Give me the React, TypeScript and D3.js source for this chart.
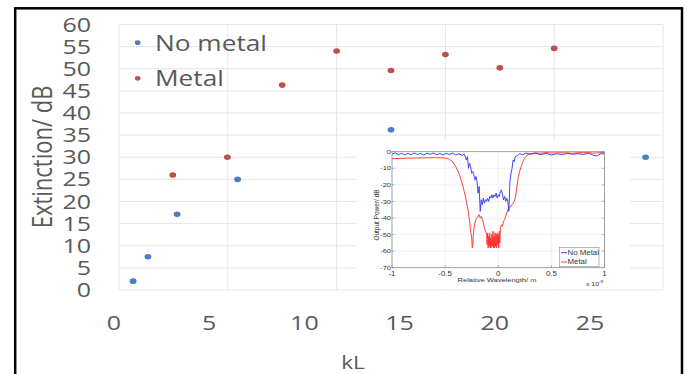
import React from 'react';
import * as d3 from 'd3';

// main scatter: extinction vs kL
const kLNoMetal = [0.65, 1.33, 2.67, 5.45, 12.5, 24.2];
const extNoMetal = [2.0, 7.5, 17.1, 25.0, 36.2, 30.0];
const kLMetal = [2.47, 4.98, 7.5, 10, 12.5, 15, 17.5, 20];
const extMetal = [26.0, 30.0, 46.3, 54.0, 49.6, 53.2, 50.2, 54.6];

const yTicks = [0, 5, 10, 15, 20, 25, 30, 35, 40, 45, 50, 55, 60];
const xTicks = [0, 5, 10, 15, 20, 25];

// inset: output power spectra (relative wavelength x1e-9 m, dB)
const specNoMetal: [number, number][] = [
  [-1.0, -1.6], [-0.97, -0.6], [-0.94, -1.8], [-0.91, -0.9], [-0.88, -2.0], [-0.85, -1.0],
  [-0.82, -1.9], [-0.79, -0.8], [-0.76, -1.7], [-0.73, -1.0], [-0.7, -2.1], [-0.67, -0.9],
  [-0.64, -1.6], [-0.61, -0.7], [-0.58, -1.8], [-0.55, -1.1], [-0.52, -2.0], [-0.49, -1.0],
  [-0.46, -1.7], [-0.43, -0.8], [-0.4, -2.0], [-0.37, -1.2], [-0.34, -2.2], [-0.32, -1.5],
  [-0.3, -5], [-0.29, -3], [-0.28, -10], [-0.27, -7], [-0.26, -9], [-0.25, -13], [-0.24, -12],
  [-0.23, -14], [-0.22, -17], [-0.21, -15], [-0.2, -18], [-0.19, -25], [-0.18, -21], [-0.17, -36],
  [-0.16, -29], [-0.15, -32], [-0.14, -28], [-0.13, -31], [-0.12, -29], [-0.11, -30], [-0.1, -28],
  [-0.09, -30], [-0.08, -27], [-0.07, -28], [-0.06, -26], [-0.05, -28], [-0.04, -26], [-0.03, -27],
  [-0.02, -25], [-0.01, -28], [0.0, -26], [0.01, -27], [0.02, -24], [0.03, -23], [0.04, -26],
  [0.05, -29], [0.06, -27], [0.07, -30], [0.08, -28], [0.09, -30], [0.1, -36], [0.11, -18],
  [0.12, -13], [0.13, -10], [0.14, -5], [0.15, -6], [0.16, -3], [0.18, -2.5], [0.2, -1.2],
  [0.23, -1.8], [0.26, -0.8], [0.3, -1.5], [0.35, -0.9], [0.4, -1.8], [0.45, -1.0], [0.5, -2.0],
  [0.55, -1.2], [0.6, -1.8], [0.65, -1.0], [0.7, -1.6], [0.75, -1.1], [0.8, -1.7], [0.85, -0.9],
  [0.9, -2.2], [0.93, -2.6], [0.96, -1.3], [1.0, -1.2],
];
const specMetal: [number, number][] = [
  [-1.0, -4.2], [-0.9, -4.0], [-0.8, -3.8], [-0.7, -3.7], [-0.6, -3.6], [-0.5, -3.8], [-0.46, -4.5],
  [-0.43, -6], [-0.4, -9], [-0.37, -13], [-0.34, -19], [-0.32, -24], [-0.3, -30], [-0.28, -37],
  [-0.27, -42], [-0.26, -48], [-0.25, -52], [-0.245, -58], [-0.24, -57], [-0.235, -50], [-0.23, -47],
  [-0.22, -43], [-0.21, -41], [-0.2, -40], [-0.19, -39], [-0.18, -38], [-0.17, -40], [-0.16, -39],
  [-0.15, -41], [-0.14, -43], [-0.13, -46], [-0.12, -48], [-0.11, -50], [-0.105, -56], [-0.1, -49],
  [-0.095, -58], [-0.09, -51], [-0.085, -57], [-0.08, -49], [-0.075, -58], [-0.07, -52], [-0.065, -58],
  [-0.06, -50], [-0.055, -57], [-0.05, -48], [-0.045, -58], [-0.04, -51], [-0.035, -58], [-0.03, -49],
  [-0.025, -57], [-0.02, -50], [-0.015, -58], [-0.01, -49], [-0.005, -56], [0.0, -50], [0.005, -58],
  [0.01, -48], [0.015, -55], [0.02, -46], [0.03, -44], [0.04, -45], [0.05, -42], [0.06, -41],
  [0.07, -39], [0.08, -37], [0.09, -35], [0.1, -34], [0.11, -33], [0.12, -33], [0.13, -32],
  [0.14, -31], [0.15, -30], [0.16, -28], [0.17, -24], [0.18, -19], [0.19, -15], [0.2, -12],
  [0.22, -8], [0.24, -5], [0.26, -3], [0.28, -1.8], [0.3, -1.2], [0.35, -0.7], [0.4, -0.9],
  [0.45, -0.5], [0.5, -0.8], [0.6, -0.6], [0.7, -0.9], [0.8, -0.5], [0.9, -0.8], [1.0, -0.5],
];
const insetXTicks = [-1, -0.5, 0, 0.5, 1];
const insetXLabels = ['-1', '-0.5', '0', '0.5', '1'];
const insetYTicks = [0, -10, -20, -30, -40, -50, -60, -70];

const SX = 1.25; // picture is stretched horizontally
const GREY = '#595959';
const GRID = '#e6e6e6';
const BLUE = '#4a7dc4';
const RED = '#c0504d';
const SANS = "'Open Sans', sans-serif";
const ARIAL = "'Liberation Sans', Arial, sans-serif";

function SText(props: any) {
  const { x, y, anchor = 'start', size, fill = GREY, family = SANS, rotate, children } = props;
  const t = `translate(${x},${y}) scale(${SX},1)` + (rotate ? ` rotate(${rotate})` : '');
  return (
    <text transform={t} textAnchor={anchor} fontSize={size} fill={fill} fontFamily={family}>
      {children}
    </text>
  );
}

export default function App() {
  const x = d3.scaleLinear().domain([0, 25]).range([119, 663]);
  const xLab = d3.scaleLinear().domain([0, 25]).range([114, 590]);
  const y = d3.scaleLinear().domain([0, 60]).range([290, 24.5]);

  // inset scales
  const ix = d3.scaleLinear().domain([-1, 1]).range([392, 604.5]);
  const iy = d3.scaleLinear().domain([-70, 0]).range([267.7, 151.7]);
  const line = d3.line<[number, number]>().x(d => ix(d[0])).y(d => iy(d[1]));

  return (
    <svg width={687} height={374} style={{ position: 'absolute', left: 0, top: 0, background: '#fff' }}>
      <rect x={0} y={0} width={687} height={374} fill="#fff" />
      {/* grid */}
      {yTicks.map(t => (
        <line key={'gy' + t} x1={x(0)} x2={x(25)} y1={y(t)} y2={y(t)} stroke={GRID} strokeWidth={1} />
      ))}
      {xTicks.map(t => (
        <line key={'gx' + t} x1={x(t)} x2={x(t)} y1={y(0)} y2={y(60)} stroke={GRID} strokeWidth={1} />
      ))}
      {/* tick labels */}
      {yTicks.map(t => (
        <SText key={'ly' + t} x={91} y={y(t) + 7} anchor="end" size={20}>{t}</SText>
      ))}
      {xTicks.map(t => (
        <SText key={'lx' + t} x={xLab(t)} y={330} anchor="middle" size={20}>{t}</SText>
      ))}
      <SText x={353} y={369} anchor="middle" size={18}>kL</SText>
      <SText x={52} y={157} anchor="middle" size={22} rotate={-90}>Extinction/ dB</SText>

      {/* points */}
      {kLNoMetal.map((k, i) => (
        <ellipse key={'b' + i} cx={x(k)} cy={y(extNoMetal[i])} rx={3.4} ry={2.8} fill={BLUE} />
      ))}
      {kLMetal.map((k, i) => (
        <ellipse key={'r' + i} cx={x(k)} cy={y(extMetal[i])} rx={3.4} ry={2.8} fill={RED} />
      ))}

      {/* legend */}
      <ellipse cx={137.7} cy={42.7} rx={2.8} ry={2.4} fill={BLUE} />
      <SText x={155} y={50.7} size={21}>No metal</SText>
      <ellipse cx={137.7} cy={78.3} rx={2.8} ry={2.4} fill={RED} />
      <SText x={155} y={86} size={21}>Metal</SText>

      {/* inset */}
      <rect x={357} y={140} width={273} height={149} fill="#fff" />
      {insetXTicks.slice(1, -1).map(t => (
        <line key={'igx' + t} x1={ix(t)} x2={ix(t)} y1={iy(-70)} y2={iy(0)} stroke="#e8e8e8" strokeWidth={0.6} />
      ))}
      {insetYTicks.slice(1, -1).map(t => (
        <line key={'igy' + t} x1={ix(-1)} x2={ix(1)} y1={iy(t)} y2={iy(t)} stroke="#e8e8e8" strokeWidth={0.6} />
      ))}
      <path d={line(specMetal) || ''} fill="none" stroke="#ff2a2a" strokeWidth={0.9} />
      <path d={line(specNoMetal) || ''} fill="none" stroke="#3030ff" strokeWidth={0.9} />
      <rect x={ix(-1)} y={iy(0)} width={ix(1) - ix(-1)} height={iy(-70) - iy(0)} fill="none" stroke="#8a8a8a" strokeWidth={0.8} />
      {insetYTicks.map(t => (
        <g key={'iyt' + t}>
          <line x1={ix(-1)} x2={ix(-1) + 2.5} y1={iy(t)} y2={iy(t)} stroke="#8a8a8a" strokeWidth={0.6} />
          <line x1={ix(1)} x2={ix(1) - 2.5} y1={iy(t)} y2={iy(t)} stroke="#8a8a8a" strokeWidth={0.6} />
          <SText x={ix(-1) - 1} y={iy(t) + 2.2} anchor="end" size={6} fill="#333" family={ARIAL}>{t}</SText>
        </g>
      ))}
      {insetXTicks.map((t, i) => (
        <g key={'ixt' + t}>
          <line x1={ix(t)} x2={ix(t)} y1={iy(-70)} y2={iy(-70) - 2.5} stroke="#8a8a8a" strokeWidth={0.6} />
          <SText x={ix(t)} y={iy(-70) + 8} anchor="middle" size={6.3} fill="#333" family={ARIAL}>{insetXLabels[i]}</SText>
        </g>
      ))}
      <SText x={497} y={281.5} anchor="middle" size={6} fill="#333" family={ARIAL}>Relative Wavelength/ m</SText>
      <SText x={586} y={286} size={5.5} fill="#333" family={ARIAL}>x 10</SText>
      <SText x={598.5} y={282.5} size={4.2} fill="#333" family={ARIAL}>-9</SText>
      <SText x={378.5} y={215} anchor="middle" size={6.5} fill="#333" family={ARIAL} rotate={-90}>Output Power/ dB</SText>

      {/* inset legend */}
      <rect x={559.3} y={247.3} width={39.7} height={19.4} fill="#fff" stroke="#8a8a8a" strokeWidth={0.6} />
      <line x1={561} x2={567} y1={252.7} y2={252.7} stroke="#3030ff" strokeWidth={0.9} />
      <SText x={567.5} y={255} size={6.3} fill="#333" family={ARIAL}>No Metal</SText>
      <line x1={561} x2={567} y1={262} y2={262} stroke="#ff2a2a" strokeWidth={0.9} />
      <SText x={567.5} y={264.3} size={6.3} fill="#333" family={ARIAL}>Metal</SText>

      {/* outer frame */}
      <rect x={15.2} y={8.3} width={666.8} height={380} fill="none" stroke="#000" strokeWidth={2.5} />
    </svg>
  );
}
